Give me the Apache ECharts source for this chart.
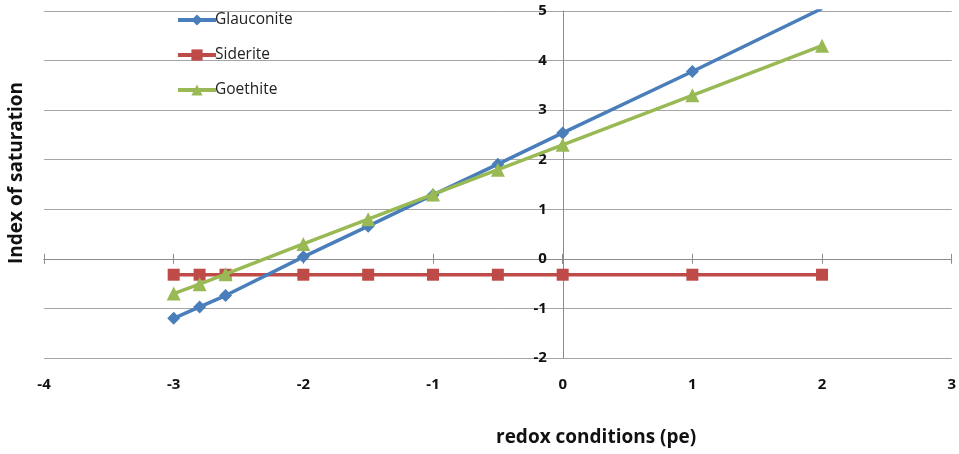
<!DOCTYPE html>
<html>
<head>
<meta charset="utf-8">
<script src="https://cdn.jsdelivr.net/npm/echarts@6/dist/echarts.min.js"></script>
<style>html,body{margin:0;padding:0;background:#fff}#c{width:959px;height:454px}</style>
</head>
<body>
<div id="c"></div>
<script>
const xValues = [-3, -2.8, -2.6, -2, -1.5, -1, -0.5, 0, 1, 2];
const glauconite = [-1.2, -0.97, -0.74, 0.04, 0.66, 1.29, 1.91, 2.54, 3.78, 5.05];
const siderite = [-0.32, -0.32, -0.32, -0.32, -0.32, -0.32, -0.32, -0.32, -0.32, -0.32];
const goethite = [-0.7, -0.51, -0.31, 0.3, 0.8, 1.3, 1.8, 2.3, 3.3, 4.3];
const seriesNames = ['Glauconite', 'Siderite', 'Goethite'];
const xTitle = 'redox conditions (pe)';
const yTitle = 'Index of saturation';
const xMin = -4, xMax = 3, yMin = -2, yMax = 5;

const pair = arr => xValues.map((x, i) => [x, arr[i]]);
const font = '"Open Sans", Lato, sans-serif';
const axisGray = '#8c8c8c';
const W = 959, gridL = 44, gridR = 7;
const plotW = W - gridL - gridR;
const yLabelOffset = -(0 - xMin) / (xMax - xMin) * plotW;

const chart = echarts.init(document.getElementById('c'));
chart.setOption({
  animation: false,
  grid: { left: gridL, right: gridR, top: 11, bottom: 96, containLabel: false },
  legend: {
    orient: 'vertical', left: 171, top: 7, itemGap: 19, itemWidth: 38, itemHeight: 14,
    textStyle: { fontFamily: font, fontSize: 15.5, color: '#222', padding: [0, 0, 0, -6] },
    lineStyle: { width: 4 },
    data: seriesNames
  },
  xAxis: [
    { type: 'value', min: xMin, max: xMax, interval: 1, position: 'bottom',
      axisLine: { show: false, onZero: false }, axisTick: { show: false }, splitLine: { show: false },
      axisLabel: { margin: 19, fontFamily: font, fontWeight: 'bold', fontSize: 15, color: '#111' } },
    { type: 'value', min: xMin, max: xMax, interval: 1, position: 'bottom',
      axisLine: { show: true, onZero: true, lineStyle: { color: axisGray, width: 1 } },
      axisTick: { show: true, length: 5, lineStyle: { color: axisGray } },
      axisLabel: { show: false }, splitLine: { show: false } },
    { type: 'value', min: xMin, max: xMax, interval: 1, position: 'top',
      axisLine: { show: true, onZero: true, lineStyle: { color: axisGray, width: 1 } },
      axisTick: { show: true, length: 5, lineStyle: { color: axisGray } },
      axisLabel: { show: false }, splitLine: { show: false } }
  ],
  yAxis: [
    { type: 'value', min: yMin, max: yMax, interval: 1, position: 'left',
      axisLine: { show: false, onZero: false }, axisTick: { show: false },
      axisLabel: { show: false },
      splitLine: { show: true, lineStyle: { color: '#a6a6a6', width: 1 } } },
    { type: 'value', min: yMin, max: yMax, interval: 1, position: 'right',
      offset: 0,
      axisLine: { show: false }, axisTick: { show: false }, splitLine: { show: false },
      axisLabel: { show: false } },
    { type: 'value', min: yMin, max: yMax, interval: 1, position: 'left', offset: yLabelOffset,
      axisLine: { show: true, onZero: false, lineStyle: { color: axisGray, width: 1 } },
      axisTick: { show: false }, splitLine: { show: false },
      axisLabel: { margin: 16, fontFamily: font, fontWeight: 'bold', fontSize: 15, color: '#111' } }
  ],
  graphic: [
    { type: 'text', left: 496, top: 428,
      style: { text: xTitle, fontFamily: font, fontWeight: 'bold', fontSize: 19, fill: '#111' } },
    { type: 'text', x: 7, y: 264, rotation: Math.PI / 2,
      style: { text: yTitle, fontFamily: font, fontWeight: 'bold', fontSize: 19, fill: '#111' } }
  ],
  series: [
    { name: seriesNames[0], type: 'line', data: pair(glauconite), symbol: 'diamond', symbolSize: 13,
      itemStyle: { color: '#4a7ebb' }, lineStyle: { width: 3.5, color: '#4a7ebb' }, clip: true, z: 3 },
    { name: seriesNames[1], type: 'line', data: pair(siderite), symbol: 'rect', symbolSize: 12,
      itemStyle: { color: '#be4b48' }, lineStyle: { width: 3.5, color: '#be4b48' }, clip: true, z: 2 },
    { name: seriesNames[2], type: 'line', data: pair(goethite), symbol: 'triangle', symbolSize: 14,
      itemStyle: { color: '#98b954' }, lineStyle: { width: 3.5, color: '#98b954' }, clip: true, z: 4 }
  ]
});
</script>
</body>
</html>
